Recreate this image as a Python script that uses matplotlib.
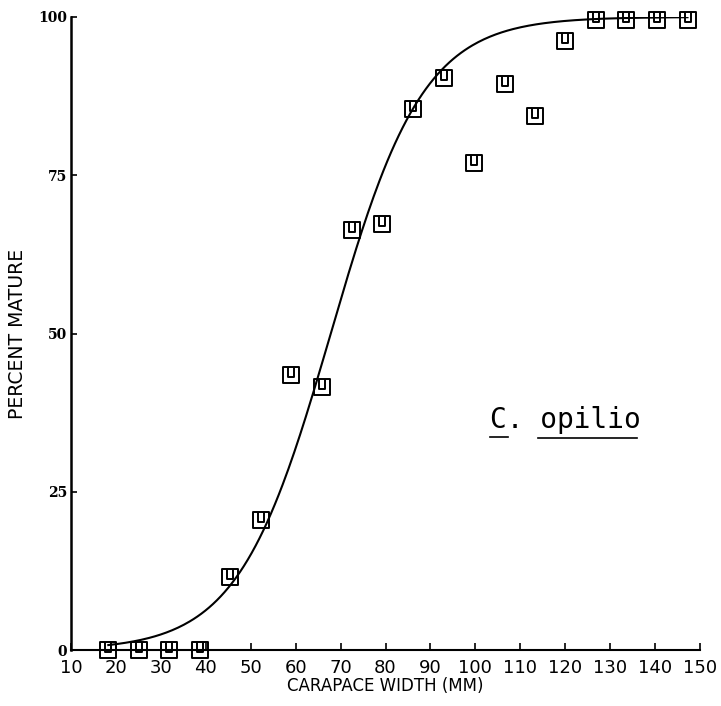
import numpy as np
import matplotlib.pyplot as plt
from matplotlib.path import Path

# carapace width classes (mm) and observed percent mature
width = [18.3, 25.1, 31.9, 38.6, 45.4, 52.2, 59.0, 65.8, 72.6, 79.3,
         86.1, 92.9, 99.7, 106.5, 113.2, 120.0, 126.8, 133.6, 140.4, 147.2]
mature = [0, 0, 0, 0, 11.6, 20.6, 43.5, 41.6, 66.3, 67.3,
          85.4, 90.3, 77.0, 89.4, 84.3, 96.2, 99.5, 99.5, 99.5, 99.5]

# fitted logistic curve
k = 0.097
x50 = 67.8

xticks = list(range(10, 151, 10))
yticks = [0, 25, 50, 75, 100]

# square marker with a U inside
verts = [(-0.5, -0.5), (0.5, -0.5), (0.5, 0.5), (-0.5, 0.5), (-0.5, -0.5),
         (-0.22, 0.5), (-0.22, -0.12), (0.22, -0.12), (0.22, 0.5)]
codes = [Path.MOVETO, Path.LINETO, Path.LINETO, Path.LINETO, Path.CLOSEPOLY,
         Path.MOVETO, Path.LINETO, Path.LINETO, Path.LINETO]
box_u = Path(verts, codes)

fig = plt.figure(figsize=(7.21, 7.06), dpi=100)
ax = fig.add_axes([0.0985, 0.079, 0.8725, 0.897])

xc = np.linspace(width[0], width[-1], 300)
yc = 100 / (1 + np.exp(-k * (xc - x50)))
ax.plot(xc, yc, color='black', lw=1.5)

ax.plot(width, mature, linestyle='none', marker=box_u, markersize=11,
        markerfacecolor='none', markeredgecolor='black', markeredgewidth=1.4,
        clip_on=False, zorder=3)

ax.set_xlim(10, 150)
ax.set_ylim(0, 100)
ax.spines['top'].set_visible(False)
ax.spines['right'].set_visible(False)
ax.spines['left'].set_linewidth(1.8)
ax.spines['bottom'].set_linewidth(1.5)

ax.set_xticks(xticks)
ax.set_xticklabels([str(t) for t in xticks], fontsize=13)
ax.set_yticks(yticks)
ax.set_yticklabels([str(t) for t in yticks], family='DejaVu Serif',
                   fontweight='bold', fontsize=10)
ax.tick_params(axis='x', direction='in', length=5, width=1.2, pad=6)
ax.tick_params(axis='y', direction='in', length=4, width=1.2, pad=3)

ax.set_xlabel('CARAPACE WIDTH (MM)', fontsize=12, labelpad=0)
ax.set_ylabel('PERCENT MATURE', fontsize=13.5, labelpad=8)

ax.text(490, 278, 'C. opilio', transform=None, family='DejaVu Sans Mono',
        fontsize=20, va='baseline', ha='left')
fig.lines.append(plt.Line2D([490 / 721, 508 / 721], [1 - 437 / 706] * 2,
                            transform=fig.transFigure, color='black', lw=1.2))
fig.lines.append(plt.Line2D([538 / 721, 637 / 721], [1 - 438 / 706] * 2,
                            transform=fig.transFigure, color='black', lw=1.2))

fig.savefig('out.png', dpi=100)
